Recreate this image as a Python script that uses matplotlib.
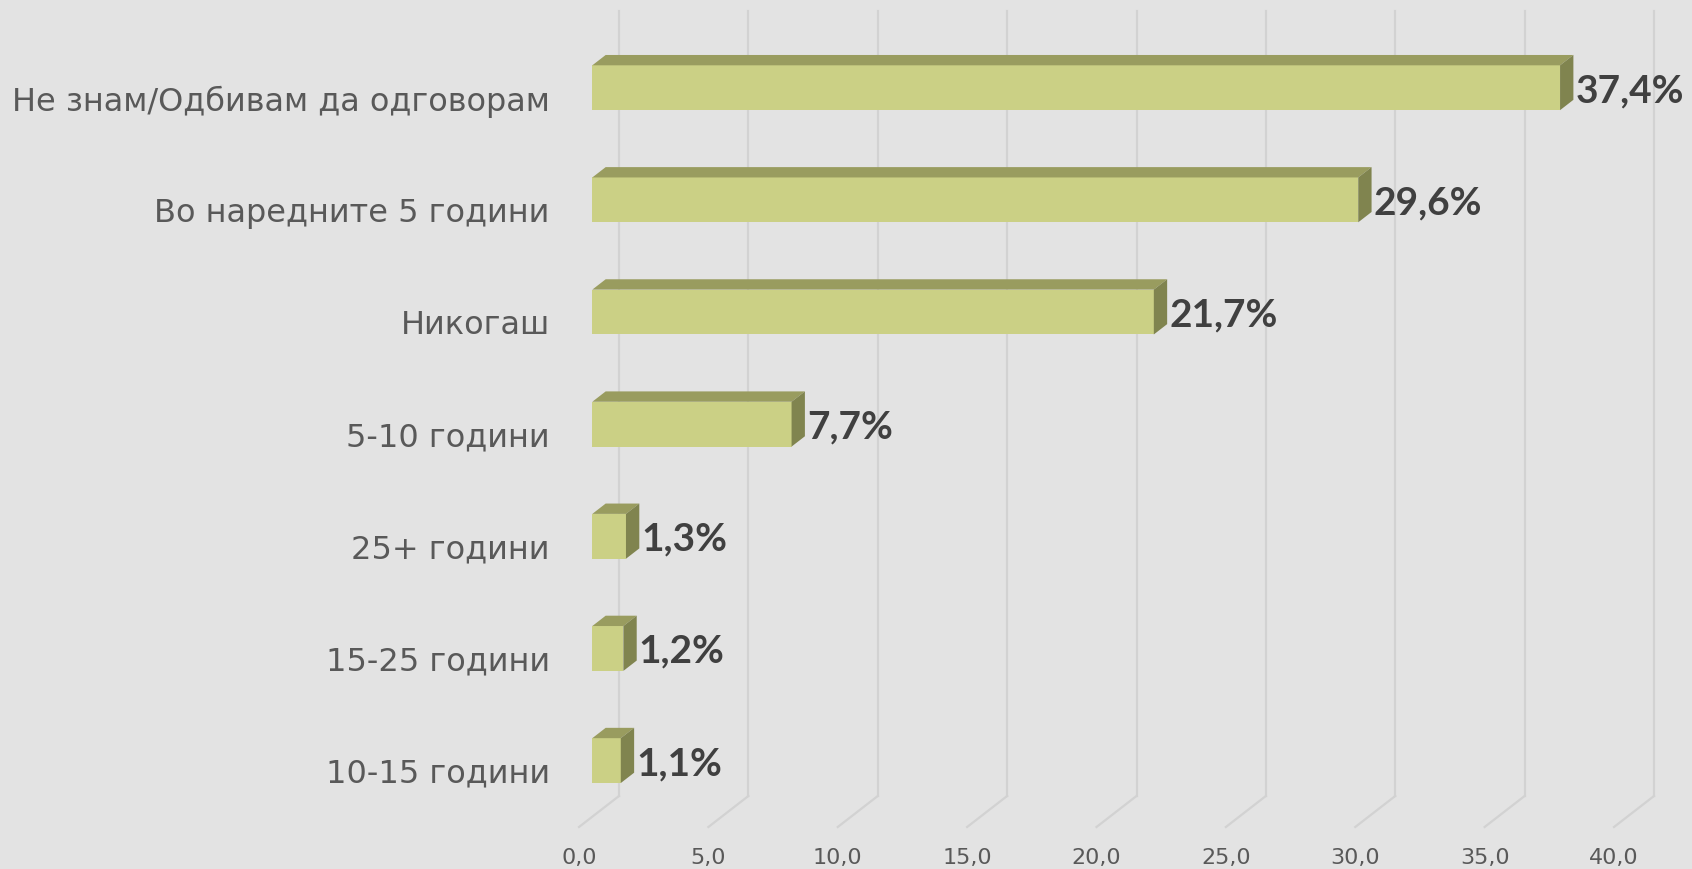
import matplotlib.pyplot as plt
from matplotlib.transforms import ScaledTranslation
from matplotlib.patches import Polygon

categories = ["Не знам/Одбивам да одговорам", "Во наредните 5 години", "Никогаш",
              "5-10 години", "25+ години", "15-25 години", "10-15 години"]
values = [37.4, 29.6, 21.7, 7.7, 1.3, 1.2, 1.1]
value_labels = ["37,4%", "29,6%", "21,7%", "7,7%", "1,3%", "1,2%", "1,1%"]
xticks = [0, 5, 10, 15, 20, 25, 30, 35, 40]
xtick_labels = ["0,0", "5,0", "10,0", "15,0", "20,0", "25,0", "30,0", "35,0", "40,0"]

BG = "#e3e3e3"
FRONT = "#cbd085"
TOP = "#999c5f"
SIDE = "#80844f"
GRID = "#d2d2d2"

W, H = 1692, 869
fig = plt.figure(figsize=(W / 100, H / 100), dpi=100, facecolor=BG)
# axes = front plane of the fake 3d box (pixels: x 579..1614, y 42..827 from top)
ax = fig.add_axes([579 / W, (H - 827) / H, (1614 - 579) / W, (827 - 42) / H])
ax.set_facecolor("none")
ax.set_xlim(0, 40)
ax.set_ylim(6.5, -0.5)
for s in ax.spines.values():
    s.set_visible(False)

# depth of the box in pixels (back plane offset)
DX, DY = 40, 31
def off(px, py):
    return ax.transData + ScaledTranslation(px / 100, py / 100, fig.dpi_scale_trans)

# back wall gridlines + floor diagonals
ymin, ymax = ax.get_ylim()
inv = fig.transFigure.inverted()
for t in xticks:
    ax.plot([t, t], [ymin, ymax], color=GRID, lw=1.6, transform=off(DX, DY),
            clip_on=False, zorder=0)
    x0, y0 = ax.transData.transform((t, ymin))
    p0 = inv.transform((x0, y0))
    p1 = inv.transform((x0 + DX, y0 + DY))
    fig.add_artist(plt.Line2D([p0[0], p1[0]], [p0[1], p1[1]], color=GRID, lw=1.6,
                              zorder=0))

# bars: front face at 1/3 depth, back face at 2/3 depth
fx, fy = DX / 3, DY / 3
bx, by = 2 * DX / 3, 2 * DY / 3
bh = 0.40
ypos = list(range(len(categories)))
bars = ax.barh(ypos, values, height=bh, color=FRONT, zorder=3)
for b in bars:
    b.set_transform(off(fx, fy))
    b.set_clip_on(False)

for y, v, lab in zip(ypos, values, value_labels):
    xl, yt = ax.transData.transform((0, y - bh / 2))
    xr, yb = ax.transData.transform((v, y + bh / 2))
    xl += fx; xr += fx; yt += fy; yb += fy
    ddx, ddy = bx - fx, by - fy
    top = Polygon([(xl, yt), (xr, yt), (xr + ddx, yt + ddy), (xl + ddx, yt + ddy)],
                  closed=True, facecolor=TOP, edgecolor="none", transform=None, zorder=2)
    side = Polygon([(xr, yt), (xr + ddx, yt + ddy), (xr + ddx, yb + ddy), (xr, yb)],
                   closed=True, facecolor=SIDE, edgecolor="none", transform=None, zorder=2)
    fig.add_artist(top)
    fig.add_artist(side)
    ax.text(v, y, lab, transform=off(bx + 2, fy - 3), ha="left", va="center",
            fontsize=28, fontweight="bold", family="Lato", color="#404040", zorder=4)

ax.set_yticks(ypos)
ax.set_yticklabels(categories, fontsize=23, color="#595959")
ax.set_xticks(xticks)
ax.set_xticklabels(xtick_labels, fontsize=16, color="#595959")
ax.tick_params(axis="y", length=0, pad=21)
ax.tick_params(axis="x", length=0, pad=15)

fig.savefig("out.png", dpi=100, facecolor=BG)
